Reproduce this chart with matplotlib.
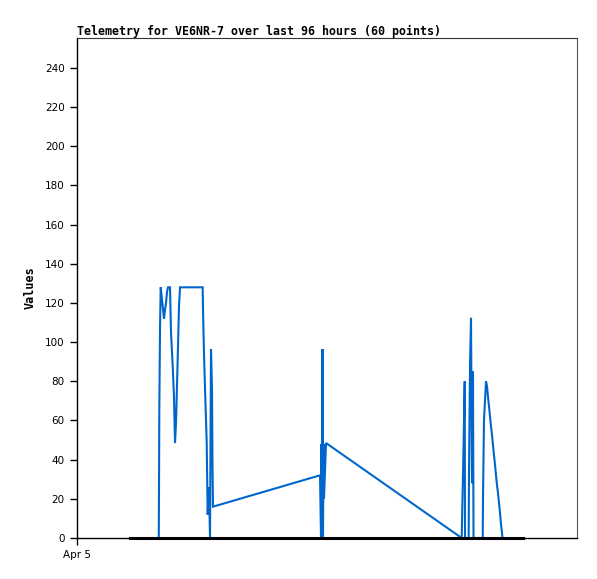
import matplotlib
matplotlib.use("Agg")
import matplotlib.pyplot as plt

# hours since Apr 5 00:00 and telemetry values
hours = [15.70, 15.74, 15.80, 15.94, 16.07, 16.32, 16.51, 16.70, 16.90, 17.09,
         17.28, 17.47, 17.86, 18.05, 18.37, 18.62, 18.82, 19.01, 19.20, 19.39,
         19.58, 19.78, 24.13, 24.19, 24.38, 24.63, 24.90, 25.09, 25.34, 25.54,
         25.73, 25.92, 26.02, 26.11, 46.66, 46.85, 46.94, 47.04, 47.14, 47.23,
         47.33, 47.42, 47.81, 73.86, 74.17, 74.44, 74.50, 75.20, 75.26, 75.46,
         75.65, 75.84, 76.03, 76.13, 76.22, 77.90, 77.95, 78.14, 78.53, 78.72,
         78.91, 79.10, 79.30, 79.49, 79.68, 79.87, 80.06, 80.26, 80.45, 80.64,
         80.83, 81.02, 81.22, 81.41, 81.60, 81.70]
values = [0, 21, 64, 107, 128, 121.5, 117, 112, 116.5, 120,
          125.6, 128, 128, 105, 88, 72, 48.5, 59, 78, 97.5,
          118, 128, 128, 117, 94.5, 72, 49, 12, 26, 0,
          96.5, 76, 36, 16, 32, 0, 48, 16, 96.5, 0,
          48, 20, 48.5, 0, 40, 80, 0, 0, 32, 88,
          112.4, 28, 85, 0, 0, 0, 20, 60, 80, 77.6,
          72, 67.4, 62, 57, 52.6, 47.5, 42.4, 37.3, 32, 27,
          23, 18, 12.8, 7, 2.5, 0]

# second series flat at zero
base_hours = [10.2, 85.6]
base_values = [0, 0]

yticks = [0, 20, 40, 60, 80, 100, 120, 140, 160, 180, 200, 220, 240]

W, H = 597, 579
fig = plt.figure(figsize=(W / 100, H / 100), dpi=100)
ax = fig.add_axes([77 / W, (H - 538) / H, 500 / W, 500 / H])

ax.plot(hours, values, color="#0066cc", linewidth=1.5, solid_joinstyle="miter")
ax.plot(base_hours, base_values, color="black", linewidth=2.2, clip_on=False, zorder=3)

ax.set_xlim(0, 96)
ax.set_ylim(0, 255.3)
ax.set_yticks(yticks)
ax.set_yticklabels([str(v) for v in yticks], fontsize=7.5, family="DejaVu Sans")
ax.set_xticks([0])
ax.set_xticklabels(["Apr 5"], fontsize=7.5, family="DejaVu Sans")
ax.tick_params(direction="out", length=5, width=1, pad=4)

for s in ["left", "bottom"]:
    ax.spines[s].set_color("black")
    ax.spines[s].set_linewidth(1)
ax.spines["top"].set_color("#333333")
ax.spines["top"].set_linewidth(0.8)
ax.spines["right"].set_color("#555555")
ax.spines["right"].set_linewidth(0.8)

ax.set_ylabel("Values", fontsize=8.5, family="DejaVu Sans Mono", fontweight="bold", labelpad=6)
fig.text(77 / W, 1 - 31 / H, "Telemetry for VE6NR-7 over last 96 hours (60 points)",
         fontsize=8.4, family="DejaVu Sans Mono", fontweight="bold", ha="left", va="center")

fig.savefig("out.png", dpi=100)
